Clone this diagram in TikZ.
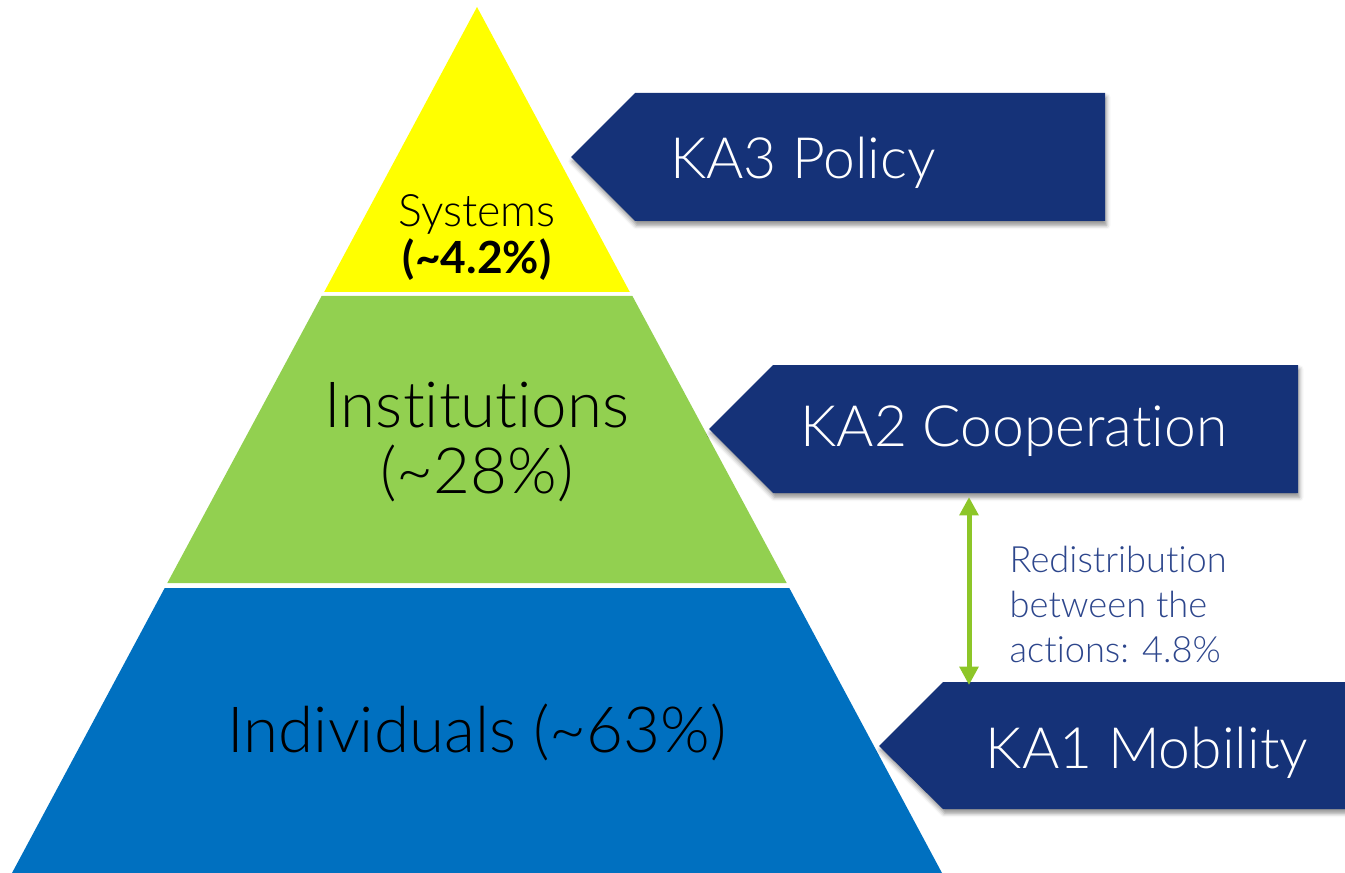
\documentclass[tikz,border=0pt]{standalone}
\usepackage{fontspec}
\IfFontExistsTF{Lato Light}{\setmainfont{Lato Light}[Ligatures=NoCommon]}{\setmainfont{Lato}[Ligatures=NoCommon]}
\newfontfamily\latoreg{Lato}[Ligatures=NoCommon]
\usetikzlibrary{arrows.meta,shadows.blur}
\definecolor{pyrY}{RGB}{255,255,0}
\definecolor{pyrG}{RGB}{146,208,80}
\definecolor{pyrB}{RGB}{0,112,192}
\definecolor{navyC}{RGB}{21,50,120}
\definecolor{arrG}{RGB}{141,198,40}
\definecolor{noteC}{RGB}{45,70,140}
\begin{document}
\begin{tikzpicture}[x=0.01cm,y=-0.01cm,
  kabox/.style={fill=navyC, blur shadow={shadow xshift=0.4pt, shadow yshift=-1.2pt, shadow blur radius=1.2pt, shadow opacity=45}},
  katext/.style={text=white, anchor=base, inner sep=0pt, font=\fontsize{16.2}{20}\selectfont},
  pyrtext/.style={text=black, anchor=base, inner sep=0pt, font=\fontsize{18.1}{22}\selectfont},
  systext/.style={text=black, anchor=base, inner sep=0pt, font=\fontsize{12.7}{15}\selectfont},
  notetext/.style={text=noteC, anchor=base west, inner sep=0pt, font=\fontsize{10.3}{12.8}\selectfont},
  dbl/.style={arrG, line width=1.42pt, {Triangle[width=5.2pt,length=5.2pt]}-{Triangle[width=5.2pt,length=5.2pt]}}
]
\useasboundingbox (0,0) rectangle (1345,873);
% pyramid layers
\fill[pyrY] (477,7) -- (629.8,292) -- (324.2,292) -- cycle;
\fill[pyrG] (321.6,296) -- (632.4,296) -- (786.7,583) -- (167.3,583) -- cycle;
\fill[pyrB] (164.7,588) -- (789.3,588) -- (942,873) -- (12,873) -- cycle;
% arrow boxes
\fill[kabox] (571,157) -- (635,93) -- (1105,93) -- (1105,221) -- (635,221) -- cycle;
\fill[kabox] (709,429) -- (773,365) -- (1298,365) -- (1298,493) -- (773,493) -- cycle;
\fill[kabox] (879,746) -- (943,682) -- (1360,682) -- (1360,809) -- (943,809) -- cycle;
% texts
\node[katext] (ka3) at (803,179) {KA3 Policy};
\node[katext] (ka2) at (1014,446) {KA2 Cooperation};
\node[katext] (ka1) at (1147,768) {KA1 Mobility};
\node[systext] (sys) at (477,227) {Systems};
\node[systext, font=\latoreg\bfseries\fontsize{12.6}{15}\selectfont] (sysp) at (477,274) {(\textasciitilde4.2\%)};
\node[pyrtext] (inst) at (477,427) {Institutions};
\node[pyrtext] (instp) at (477,493) {(\textasciitilde28\%)};
\node[pyrtext] (ind) at (477,752) {Individuals (\textasciitilde63\%)};
\node[notetext] (note1) at (1009,572) {Redistribution};
\node[notetext] (note2) at (1009,617) {between the};
\node[notetext] (note3) at (1009,662) {actions: 4.8\%};
% redistribution arrow
\coordinate (ka2bot) at (969,497);
\coordinate (ka1top) at (969,685);
\draw[dbl] (ka2bot) -- (ka1top);
\end{tikzpicture}
\end{document}
